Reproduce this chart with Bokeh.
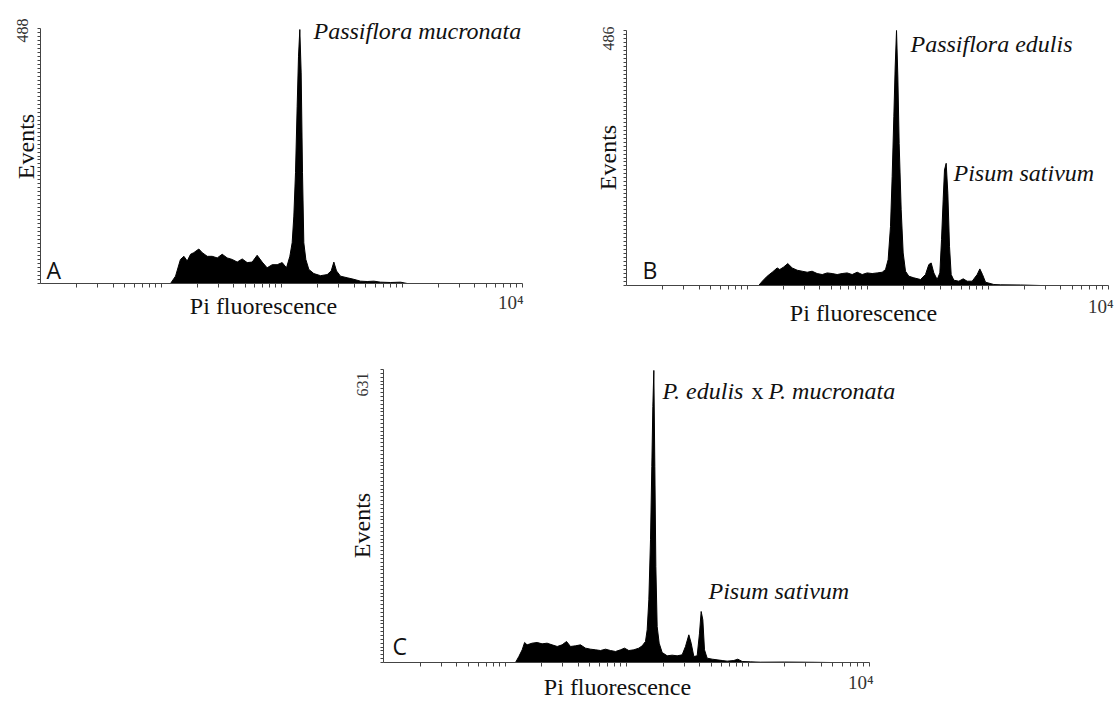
from math import pi, log10
from bokeh.plotting import figure
from bokeh.models import Range1d, FixedTicker, Label, Spacer, ColumnDataSource
from bokeh.layouts import row, column
from bokeh.embed import file_html
from bokeh.resources import INLINE

# ---------------- data ----------------
# Panel A: Passiflora mucronata
a_fluor = [12.0, 13.2, 14.5, 15.5, 16.5, 17.6, 18.7, 20.6, 22.0, 24.2, 26.6, 29.3, 32.2, 35.4,
           39.0, 42.9, 47.2, 51.9, 57.1, 62.8, 69.1, 76.0, 83.7, 92.1, 101.3, 110.0, 117.3, 122.6,
           126.6, 130.7, 134.9, 138.4, 141.9, 145.6, 149.4, 153.2, 159.2, 168.6, 185.5, 210.8,
           239.3, 258.4, 271.9, 286.1, 308.8, 350.8, 398.4, 452.4, 514, 584, 663, 803, 972, 1104]
a_events = [0, 14, 46, 52, 43, 56, 59, 66, 59, 52, 52, 49, 56, 49, 46, 41, 47, 40, 41, 54, 41,
            30, 36, 36, 40, 30, 52, 78, 129, 212, 339, 435, 486, 403, 212, 78, 46, 27, 19, 15,
            17, 24, 41, 24, 14, 11, 8, 4.5, 3.8, 4.5, 2.6, 1.9, 2.6, 0]
a_max = 488

# Panel B: Passiflora edulis + Pisum sativum
b_fluor = [12.5, 13.4, 14.7, 16.2, 17.8, 18.7, 20.2, 21.8, 23.7, 26.1, 28.7, 31.6, 34.7, 38.2,
           42.1, 46.3, 50.9, 56.0, 61.6, 67.8, 74.6, 82.1, 90.3, 99.4, 109.3, 120.3, 132.4,
           141.1, 148.4, 155.2, 160.2, 165.4, 169.7, 174.1, 178.6, 183.1, 190.3, 197.7, 206.7,
           220.3, 242.3, 275.4, 302.9, 322.8, 337.6, 355.2, 378.6, 398.5, 411.4, 424.6, 435.5,
           449.7, 464.2, 479.2, 494.8, 520.6, 572.7, 622.2, 671.5, 739.0, 813.2, 855.7, 900.5,
           953.5, 1118, 1270, 1861, 2728]
b_events = [0, 8.2, 17.7, 25.3, 33.5, 30.4, 35.4, 41.8, 33.5, 29.1, 27.2, 25.3, 27.2, 22.8,
            20.9, 24.0, 22.8, 20.9, 22.8, 24.0, 20.9, 25.3, 20.9, 24.0, 22.8, 24.0, 25.3, 30.4,
            49.4, 112.6, 207.6, 321.5, 416.4, 486, 397.4, 270.8, 144.3, 62.0, 27.2, 17.7, 14.6,
            11.4, 20.9, 39.9, 43.0, 24.0, 11.4, 24.0, 87.3, 163.3, 220.2, 232.9, 175.9, 74.7,
            20.9, 10.1, 8.2, 12.7, 8.2, 8.2, 20.9, 31.6, 20.9, 6.3, 1.9, 1.3, 1.0, 0]
b_max = 486

# Panel C: P. edulis x P. mucronata + Pisum sativum
c_fluor = [12.2, 13.0, 13.85, 14.5, 15.2, 16.7, 18.4, 20.2, 22.2, 24.4, 26.9, 29.5, 32.1, 34.6,
           38.0, 41.8, 46.0, 50.6, 55.6, 61.1, 67.2, 73.9, 81.2, 89.3, 96.3, 104.5, 114.9, 126.3,
           134.6, 143.3, 148.0, 152.7, 157.6, 161.6, 164.7, 167.9, 171.1, 174.4, 178.8, 185.7,
           196.6, 216.1, 237.6, 261.2, 287.2, 305.9, 325.9, 340.6, 358.3, 381.6, 398.9, 411.7,
           424.9, 438.5, 461.2, 507.2, 557.5, 613.0, 673.8, 764.5, 824.8, 895.4, 1049, 1268,
           2000, 3500, 4800]
c_events = [0, 12.9, 27.3, 43.1, 38.0, 41.6, 43.1, 40.2, 41.6, 38.0, 34.5, 38.0, 45.2, 34.5,
            35.9, 38.0, 30.9, 28.7, 27.3, 25.8, 28.7, 25.8, 23.7, 27.3, 30.9, 25.8, 27.3, 30.9,
            35.9, 45.2, 70.4, 135.0, 264.2, 422.1, 551.3, 629, 422.1, 206.8, 77.5, 41.6, 21.5,
            14.4, 15.8, 14.4, 16.5, 34.5, 59.6, 41.6, 12.9, 14.4, 63.2, 109.8, 91.9, 27.3, 9.3,
            7.2, 5.7, 4.3, 2.9, 4.3, 7.2, 2.2, 1.4, 0.7, 1.0, 0.5, 0]
c_max = 631

x_label = "Pi fluorescence"
y_label = "Events"
x_top_label = "10\u2074"
x_min, x_max = 1, 10000

SERIF = "Liberation Serif"
SANS = "Open Sans"
AX = "#444444"


class Panel:
    """A figure whose frame covers the whole canvas; the axes sit inside it
    (fixed_location + bounds) so that every label around them stays visible."""

    def __init__(self, fluor, events, ymax, fig_box, axis_box, n_minor):
        fl, ft, fw, fh = fig_box            # figure position on the page
        al, ar, ab, at = axis_box           # axis ends on the page
        self.fl, self.fb = fl, ft + fh
        dec = (ar - al) / (log10(x_max) - log10(x_min))
        x0 = 10 ** (log10(x_min) - (al - fl) / dec)
        x1 = 10 ** (log10(x_max) + (fl + fw - ar) / dec)
        per_px = ymax / (ab - at)
        y0 = -(ft + fh - ab) * per_px
        y1 = ymax + (at - ft) * per_px
        p = figure(width=fw, height=fh, x_axis_type="log",
                   x_range=Range1d(x0, x1), y_range=Range1d(y0, y1),
                   output_backend="svg", toolbar_location=None, min_border=0)
        p.outline_line_color = None
        p.xgrid.visible = False
        p.ygrid.visible = False

        src = ColumnDataSource(dict(x=fluor, y=events))
        p.varea(x="x", y1=0, y2="y", source=src, fill_color="black")
        p.line(x="x", y="y", source=src, line_color="black", line_width=1)

        minor_x = [m * 10 ** d for d in range(4) for m in range(1, 10)][1:] + [10000]
        xa = p.xaxis[0]
        xa.fixed_location = 0
        xa.bounds = (x_min, x_max)
        xa.ticker = FixedTicker(ticks=[], minor_ticks=minor_x)
        xa.axis_line_color = AX
        xa.minor_tick_line_color = AX
        xa.minor_tick_in = 0
        xa.minor_tick_out = 4

        ya = p.yaxis[0]
        ya.fixed_location = x_min
        ya.bounds = (0, ymax)
        ya.ticker = FixedTicker(ticks=[],
                                minor_ticks=[ymax * k / n_minor for k in range(n_minor + 1)])
        ya.axis_line_color = AX
        ya.minor_tick_line_color = AX
        ya.minor_tick_in = 0
        ya.minor_tick_out = 3
        self.p = p

    def text(self, px, py, s, size=24, font=SERIF, style="normal", align="left",
             baseline="alphabetic", angle=0, color="#111111"):
        if baseline == "alphabetic":
            py -= 0.33 * size   # place the glyph baseline on the page row py
        self.p.add_layout(Label(x=px - self.fl, y=self.fb - py,
                                x_units="screen", y_units="screen", text=s,
                                text_font=font, text_font_size=f"{size}px",
                                text_font_style=style, text_align=align,
                                text_baseline=baseline, angle=angle, text_color=color))

    def vtext(self, px, py, s, size, color="#111111"):
        self.text(px, py, s, size=size, align="center", baseline="middle",
                  angle=pi / 2, color=color)


# ---------------- panel A ----------------
A = Panel(a_fluor, a_events, a_max, (0, 0, 586, 338), (40, 522, 283, 28), 64)
A.text(313, 38, "Passiflora mucronata", style="italic")
A.text(46, 277, "A", size=23, font=SANS)
A.vtext(22, 30, str(a_max), 16, color="#333333")
A.vtext(25, 146, y_label, 24)
A.text(263, 313, x_label, align="center")
A.text(523, 308, x_top_label, size=19, align="right", color="#333333")

# ---------------- panel B ----------------
B = Panel(b_fluor, b_events, b_max, (586, 0, 529, 338), (626, 1108, 285, 30), 64)
B.text(910, 51, "Passiflora edulis", style="italic")
B.text(953, 180, "Pisum sativum", style="italic")
B.text(642, 277, "B", size=23, font=SANS)
B.vtext(608, 38, str(b_max), 16, color="#333333")
B.vtext(607, 157, y_label, 24)
B.text(863, 320, x_label, align="center")
B.text(1113, 312, x_top_label, size=19, align="right", color="#333333")

# ---------------- panel C ----------------
C = Panel(c_fluor, c_events, c_max, (333, 338, 566, 363), (383, 869, 662, 369), 76)
C.text(662, 398, "P. edulis", style="italic")
C.text(751, 398, "x")
C.text(768, 398, "P. mucronata", style="italic")
C.text(708, 598, "Pisum sativum", style="italic")
C.text(392, 653, "C", size=23, font=SANS)
C.vtext(362, 384, str(c_max), 16, color="#333333")
C.vtext(361, 525, y_label, 24)
C.text(617, 694, x_label, align="center")
C.text(873, 688, x_top_label, size=19, align="right", color="#333333")

layout = column(row(A.p, B.p), row(Spacer(width=333, height=363), C.p))

open("out.html", "w").write(file_html(layout, INLINE))
